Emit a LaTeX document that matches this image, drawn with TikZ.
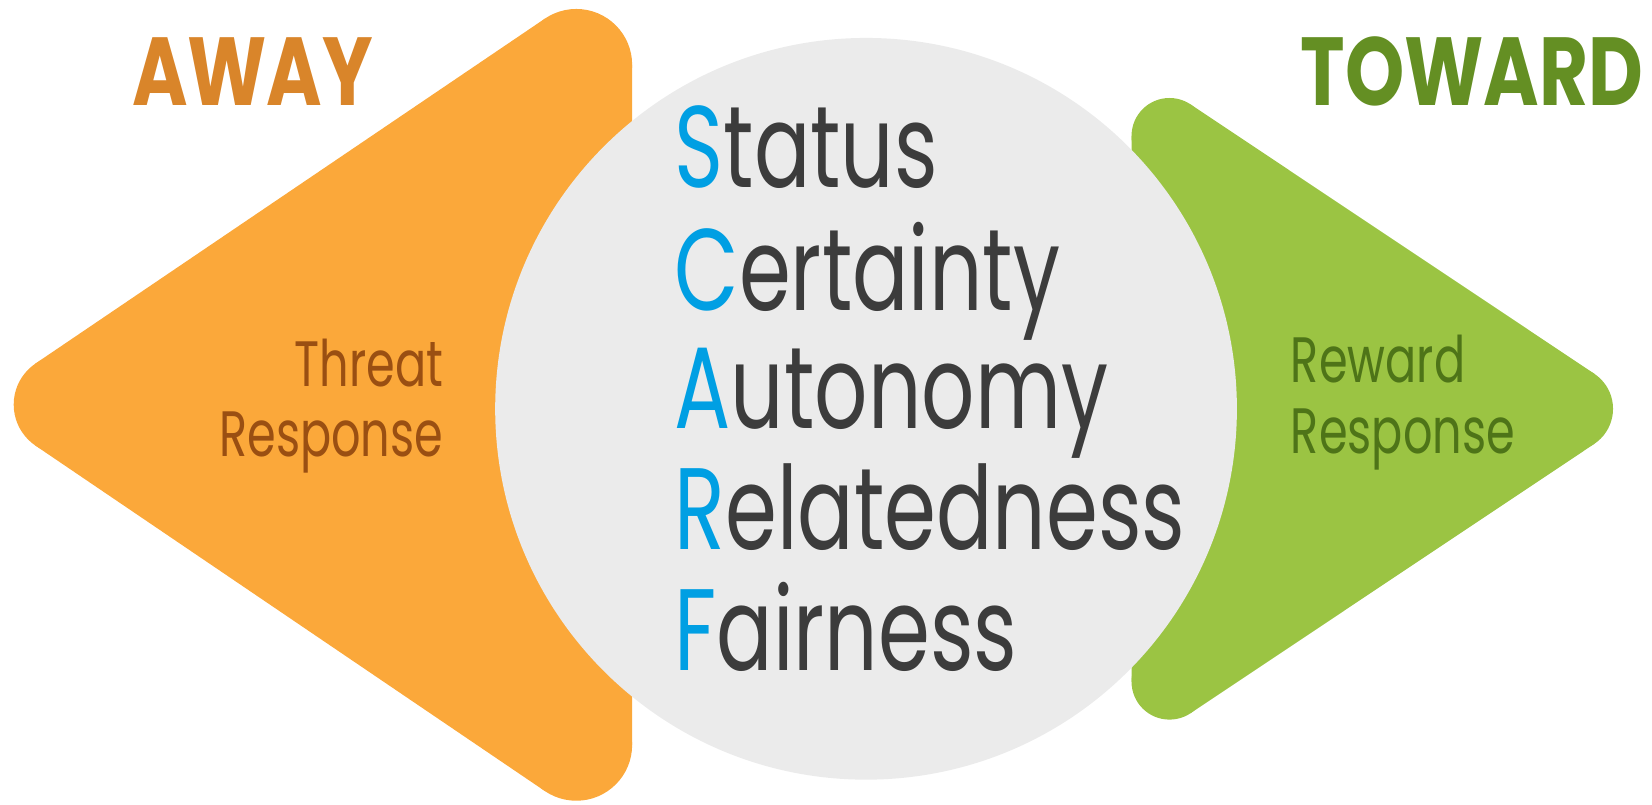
\documentclass[tikz,border=0pt]{standalone}
\usepackage{fontspec}
\setmainfont{Poppins}[FakeStretch=0.72]
\newfontfamily\headfont{Poppins}[FakeStretch=0.78]
\usetikzlibrary{calc}

\definecolor{awayfill}{HTML}{FBA83A}
\definecolor{awaytext}{HTML}{D9852A}
\definecolor{threattext}{HTML}{9A4F12}
\definecolor{towardfill}{HTML}{9BC443}
\definecolor{towardtext}{HTML}{648F23}
\definecolor{rewardtext}{HTML}{4E7418}
\definecolor{scarfgray}{HTML}{EBEBEB}
\definecolor{scarfblue}{HTML}{009FE3}
\definecolor{scarftext}{HTML}{3C3C3C}

\begin{document}
\begin{tikzpicture}[x=0.021071cm, y=-0.021071cm, line join=round,
    heading/.style={inner sep=0pt, font=\headfont\fontsize{55}{55}\selectfont\bfseries},
    response/.style={inner sep=0pt, align=#1, font=\fontsize{36.5}{40}\selectfont},
    scarfword/.style={inner sep=0pt, anchor=base west, text=scarftext,
      font=\fontsize{66}{66}\selectfont}]

  % Keep the page as large as the reference
  \useasboundingbox (0,0) rectangle (1568,764);

  % Draw the away arrow head: three round corners and the hull between them
  \fill[awayfill] (547,61.5) circle[radius=53] (547,707) circle[radius=53]
                  (60,384) circle[radius=47];
  \fill[awayfill] (600,61.5) -- (600,707) -- (517.3,750.9) -- (33.6,422.9)
                  -- (33.6,345.1) -- (517.3,17.6) -- cycle;

  % Draw the toward arrow head the same way
  \fill[towardfill] (1110,129) circle[radius=36] (1110,647) circle[radius=36]
                    (1491,388) circle[radius=40];
  \fill[towardfill] (1074,129) -- (1130,99.1) -- (1513.2,354.7) -- (1513.2,421.3)
                    -- (1130,676.9) -- (1074,647) -- cycle;

  % Draw the disc in the middle
  \fill[scarfgray] (822,388) circle[radius=352];

  % Label the two directions
  \node[heading, text=awaytext, anchor=base west] (away) at (125,100) {AWAY};
  \node[heading, text=towardtext, anchor=base east] (toward) at (1560,100) {TOWARD};

  % Label the two responses
  \node[response=right, text=threattext, anchor=north east] (threat) at (421,321) {Threat\\Response};
  \node[response=left, text=rewardtext, anchor=north west] (reward) at (1225,318) {Reward\\Response};

  % Write the five domains
  \foreach \first/\rest/\y in {S/tatus/178, C/ertainty/295, A/utonomy/407,
                               R/elatedness/522, F/airness/636}
    \node[scarfword] (word-\first) at (640,\y) {\textcolor{scarfblue}{\first}\rest};

\end{tikzpicture}
\end{document}
